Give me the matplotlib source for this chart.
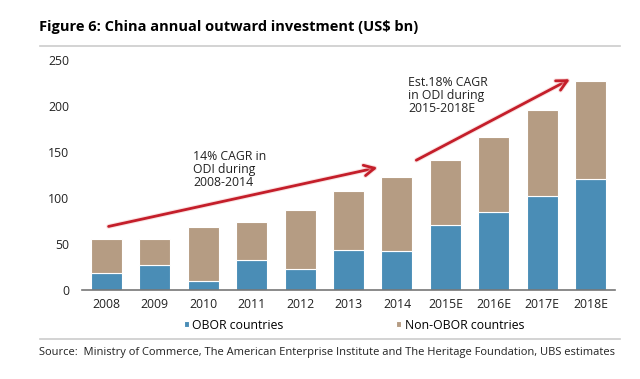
import matplotlib.pyplot as plt
import matplotlib.patheffects as pe
import numpy as np

plt.rcParams['font.family'] = ['Open Sans', 'DejaVu Sans']

# values (US$ bn)
years = ['2008', '2009', '2010', '2011', '2012', '2013', '2014',
         '2015E', '2016E', '2017E', '2018E']
obor = [18, 27, 10, 33, 23, 43.5, 42, 70.5, 85, 102, 120.5]
total = [55, 55.5, 68, 74, 86.5, 107, 122.5, 141, 166, 195, 227.5]
non_obor = [t - o for t, o in zip(total, obor)]

# trend arrows (x in bar index, y in US$ bn)
arrow1 = [(0.05, 69), (5.6, 133)]
arrow2 = [(6.4, 141), (9.57, 229)]
note1 = "14% CAGR in\nODI during\n2008-2014"
note2 = "Est.18% CAGR\nin ODI during\n2015-2018E"

blue = '#4a8db6'
tan = '#b59c83'
red = '#c41e2a'

fig = plt.figure(figsize=(6.4, 3.79), dpi=100)
ax = fig.add_axes([0.128, 0.235, 0.833, 0.607])

x = np.arange(len(years))
ax.bar(x, obor, width=0.64, color=blue, edgecolor='white', linewidth=0.8,
       label='OBOR countries')
ax.bar(x, non_obor, bottom=obor, width=0.64, color=tan, edgecolor='white',
       linewidth=0.8, label='Non-OBOR countries')

ax.set_xlim(-0.5, len(years) - 0.5)
ax.set_ylim(0, 250)
ax.set_yticks(range(0, 251, 50))
ax.set_xticks(x)
ax.set_xticklabels(years)
ax.tick_params(length=0, labelsize=8.8, colors='#222222', pad=6)
ax.tick_params(axis='y', pad=9)
for s in ['top', 'right', 'left']:
    ax.spines[s].set_visible(False)
ax.spines['bottom'].set_color('#777777')
ax.spines['bottom'].set_linewidth(1.2)

glow = [pe.Stroke(linewidth=3.5, foreground='#f6c4c4', alpha=0.5), pe.Normal()]
for (x0, y0), (x1, y1) in [arrow1, arrow2]:
    ax.annotate('', xy=(x1, y1), xytext=(x0, y0),
                arrowprops=dict(arrowstyle='->,head_length=0.75,head_width=0.38',
                                color=red, lw=2, shrinkA=0, shrinkB=0,
                                path_effects=glow))

ax.text(1.8, 152, note1, fontsize=8.8, va='top', ha='left', color='#222222',
        linespacing=1.0)
ax.text(6.23, 233, note2, fontsize=8.8, va='top', ha='left', color='#222222',
        linespacing=1.0)

leg = fig.legend(loc='center', bbox_to_anchor=(0.553, 0.142), ncol=2,
                 frameon=False, fontsize=8.8, handlelength=0.4, handleheight=0.4,
                 handletextpad=0.3, columnspacing=9.2)

fig.text(0.061, 0.93, 'Figure 6: China annual outward investment (US$ bn)',
         fontsize=10.5, fontweight='bold', va='center', ha='left')
fig.add_artist(plt.Line2D([0.0625, 0.969], [0.879, 0.879], color='#cccccc', lw=1.2))
fig.add_artist(plt.Line2D([0.0625, 0.969], [0.105, 0.105], color='#cccccc', lw=1.2))
fig.text(0.061, 0.071, 'Source:  Ministry of Commerce, The American Enterprise '
         'Institute and The Heritage Foundation, UBS estimates',
         fontsize=8.0, va='center', ha='left', color='#222222')

fig.savefig('out.png', dpi=100, facecolor='white')
